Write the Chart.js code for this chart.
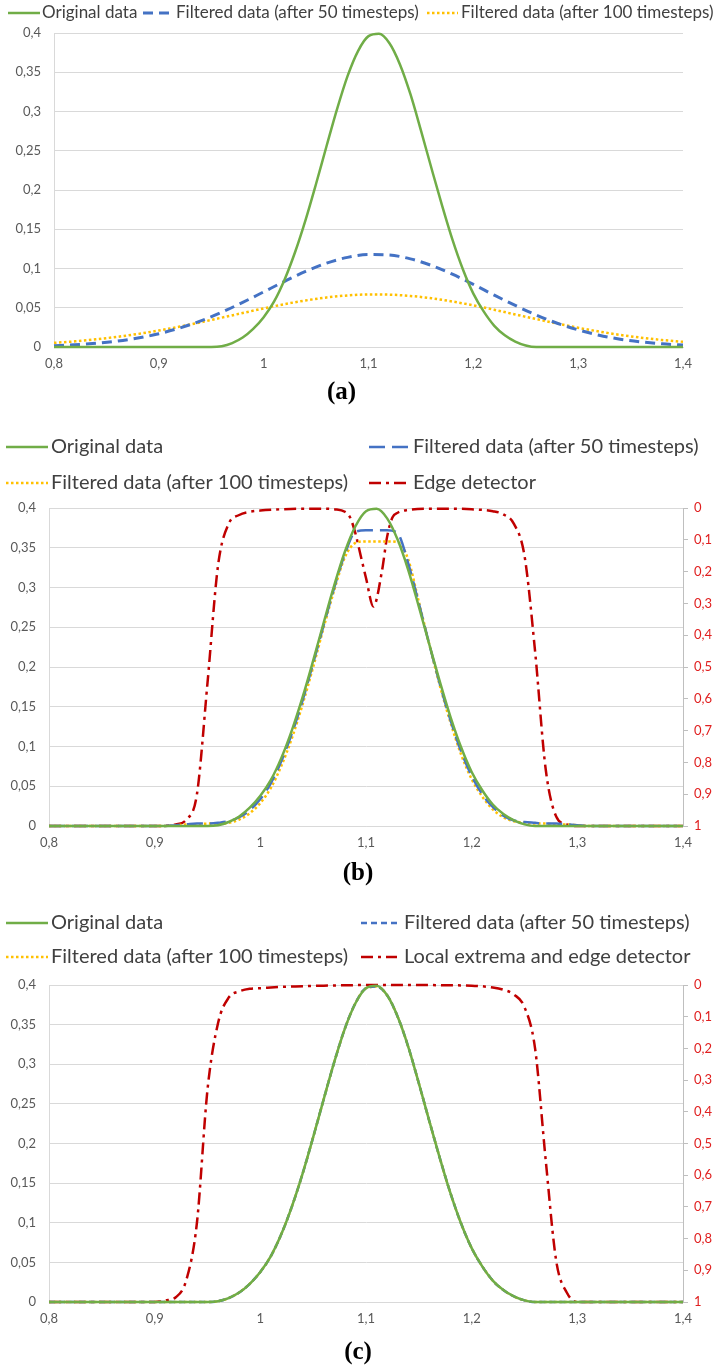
<!DOCTYPE html>
<html>
<head>
<meta charset="utf-8">
<script src="https://cdn.jsdelivr.net/npm/chart.js@4.4.1/dist/chart.umd.min.js"></script>
<style>
html,body{margin:0;padding:0;background:#fff;}
#wrap{position:relative;width:716px;height:1367px;}
canvas{position:absolute;left:0;}
</style>
</head>
<body>
<div id="wrap">
<canvas id="ca" width="716" height="410" style="top:0"></canvas>
<canvas id="cb" width="716" height="478" style="top:410px"></canvas>
<canvas id="cc" width="716" height="479" style="top:888px"></canvas>
</div>
<script>
// ---------- data ----------
const xTickValues = [0.8, 0.9, 1.0, 1.1, 1.2, 1.3, 1.4];
const xTickLabels = ['0,8', '0,9', '1', '1,1', '1,2', '1,3', '1,4'];
const yTickValues = [0, 0.05, 0.1, 0.15, 0.2, 0.25, 0.3, 0.35, 0.4];
const yTickLabels = ['0', '0,05', '0,1', '0,15', '0,2', '0,25', '0,3', '0,35', '0,4'];
const y2TickValues = [0, 0.1, 0.2, 0.3, 0.4, 0.5, 0.6, 0.7, 0.8, 0.9, 1];
const y2TickLabels = ['0', '0,1', '0,2', '0,3', '0,4', '0,5', '0,6', '0,7', '0,8', '0,9', '1'];

const seriesNamesA = ['Original data', 'Filtered data (after 50 timesteps)', 'Filtered data (after 100 timesteps)'];
const seriesNamesB = ['Original data', 'Filtered data (after 50 timesteps)', 'Filtered data (after 100 timesteps)', 'Edge detector'];
const seriesNamesC = ['Original data', 'Filtered data (after 50 timesteps)', 'Filtered data (after 100 timesteps)', 'Local extrema and edge detector'];

// x grid, step 0.01
const xFine = [0.80,0.81,0.82,0.83,0.84,0.85,0.86,0.87,0.88,0.89,0.90,0.91,0.92,0.93,0.94,0.95,
  0.96,0.97,0.98,0.99,1.00,1.01,1.02,1.03,1.04,1.05,1.06,1.07,1.08,1.09,1.10,1.11,1.12,1.13,1.14,1.15,
  1.16,1.17,1.18,1.19,1.20,1.21,1.22,1.23,1.24,1.25,1.26,
  1.27,1.28,1.29,1.30,1.31,1.32,1.33,1.34,1.35,1.36,1.37,1.38,1.39,1.40];
// x grid, step 0.02
const xCoarse = [0.80,0.82,0.84,0.86,0.88,0.90,0.92,0.94,0.96,0.98,1.00,1.02,1.04,1.06,1.08,1.10,
  1.12,1.14,1.16,1.18,1.20,1.22,1.24,1.26,1.28,1.30,1.32,1.34,1.36,1.38,1.40];

// (a)
const originalA = [0,0,0,0,0,0,0,0,0,0,0,0,0,0,0,0,
  0.001,0.005,0.012,0.023,0.038,0.058,0.086,0.121,0.162,0.208,0.256,0.303,0.345,0.377,0.396,0.399,0.387,0.360,0.322,0.276,
  0.228,0.181,0.137,0.099,0.068,0.045,0.027,0.015,0.007,0.002,0,
  0,0,0,0,0,0,0,0,0,0,0,0,0,0];
const filtered50A = [0.0017,0.0028,0.0047,0.0074,0.0114,0.0169,0.0242,0.0333,0.0443,0.0568,0.0702,0.0837,0.0963,0.1068,0.1142,0.1177,
  0.1171,0.1123,0.1039,0.0927,0.0797,0.0660,0.0529,0.0408,0.0303,0.0218,0.0150,0.0100,0.0065,0.0040,0.0024];
const filtered100A = [0.0053,0.0072,0.0098,0.0129,0.0166,0.0210,0.0260,0.0315,0.0374,0.0433,0.0492,0.0546,0.0593,0.0631,0.0657,0.0670,
  0.0667,0.0650,0.0621,0.0580,0.0530,0.0474,0.0415,0.0356,0.0299,0.0245,0.0197,0.0154,0.0119,0.0089,0.0066];

// (b)
const originalB = [0,0,0,0,0,0,0,0,0,0,0,0,0,0,0,0,
  0.001,0.005,0.012,0.023,0.038,0.058,0.086,0.121,0.162,0.208,0.256,0.303,0.345,0.377,0.396,0.399,0.387,0.360,0.322,0.276,
  0.228,0.181,0.137,0.099,0.068,0.045,0.027,0.015,0.007,0.002,0,
  0,0,0,0,0,0,0,0,0,0,0,0,0,0];
const filtered50B = [0,0,0,0,0,0,0,0,0,0,0,0,
  0.001,0.002,0.003,0.003,0.004,0.006,0.011,0.020,0.034,0.054,0.082,0.117,0.158,0.205,0.253,0.300,0.342,0.370,0.372,0.372,0.372,0.368,0.330,0.280,
  0.228,0.178,0.133,0.094,0.063,0.040,0.024,0.013,0.007,0.005,0.004,0.003,0.003,0.002,0.001,
  0,0,0,0,0,0,0,0,0,0];
const filtered100B = [0,0,0,0,0,0,0,0,0,0,0,0,
  0.001,0.002,0.002,0.003,0.003,0.004,0.008,0.016,0.029,0.048,0.076,0.111,0.153,0.200,0.250,0.297,0.338,0.356,0.358,0.358,0.358,0.357,0.335,0.282,
  0.228,0.176,0.130,0.090,0.059,0.037,0.021,0.011,0.006,0.004,0.003,0.003,0.002,0.002,0.001,
  0,0,0,0,0,0,0,0,0,0];
const edgeBx = [0.80,0.85,0.90,0.92,0.93,0.94,0.95,0.96,0.97,0.98,0.99,1.00,1.02,1.04,1.06,1.07,1.08,1.085,1.09,1.095,1.10,1.107,
  1.115,1.12,1.125,1.13,1.14,1.16,1.18,1.20,1.22,1.23,1.24,1.25,1.26,1.27,1.28,1.29,1.30,1.35,1.40];
const edgeB = [1,1,1,0.995,0.98,0.9,0.55,0.18,0.05,0.022,0.012,0.008,0.004,0.002,0.002,0.004,0.012,0.03,0.08,0.15,0.22,0.31,
  0.2,0.09,0.03,0.015,0.006,0.002,0.002,0.004,0.01,0.02,0.05,0.15,0.45,0.82,0.97,0.995,1,1,1];

// (c)
const originalC = [0,0,0,0,0,0,0,0,0,0,0,0,0,0,0,0,
  0.001,0.005,0.012,0.023,0.038,0.058,0.086,0.121,0.162,0.208,0.256,0.303,0.345,0.377,0.396,0.399,0.387,0.360,0.322,0.276,
  0.228,0.181,0.137,0.099,0.068,0.045,0.027,0.015,0.007,0.002,0,
  0,0,0,0,0,0,0,0,0,0,0,0,0,0];
const filtered50C = [0,0,0,0,0,0,0,0,0,0,0,0,0,0,0,0,
  0.001,0.005,0.012,0.023,0.038,0.058,0.086,0.121,0.162,0.208,0.256,0.303,0.345,0.377,0.396,0.398,0.387,0.360,0.322,0.276,
  0.228,0.181,0.137,0.099,0.068,0.045,0.027,0.015,0.007,0.002,0,
  0,0,0,0,0,0,0,0,0,0,0,0,0,0];
const filtered100C = [0,0,0,0,0,0,0,0,0,0,0,0,0,0,0,0,
  0.001,0.005,0.012,0.023,0.038,0.058,0.086,0.121,0.162,0.208,0.256,0.303,0.345,0.377,0.396,0.398,0.387,0.360,0.322,0.276,
  0.228,0.181,0.137,0.099,0.068,0.045,0.027,0.015,0.007,0.002,0,
  0,0,0,0,0,0,0,0,0,0,0,0,0,0];
const edgeCx = [0.80,0.85,0.90,0.91,0.92,0.93,0.94,0.95,0.96,0.97,0.98,0.99,1.00,1.02,1.04,1.06,1.08,1.10,1.15,1.18,1.20,1.22,1.23,
  1.24,1.25,1.26,1.27,1.28,1.29,1.30,1.35,1.40];
const edgeC = [1,1,1,0.995,0.985,0.93,0.75,0.33,0.12,0.04,0.02,0.012,0.01,0.006,0.004,0.002,0.001,0,0,0.001,0.002,0.008,0.015,
  0.03,0.07,0.2,0.55,0.87,0.97,1,1,1];

// ---------- helpers ----------
const pts = (xs, ys) => xs.map((x, i) => ({x: x, y: ys[i]}));
const GREEN = '#70ad47', BLUE = '#4472c4', YELLOW = '#ffc000', RED = '#c00000';
const TICK_FONT = {family: 'Lato', size: 13};
const TICK_COLOR = '#595959';
const GRID_COLOR = '#d9d9d9';

const fixedLegend = {
  id: 'fixedLegend',
  afterDraw(chart, args, opts) {
    const ctx = chart.ctx;
    ctx.save();
    opts.items.forEach((it, i) => {
      const ds = chart.data.datasets[i];
      ctx.strokeStyle = ds.borderColor;
      ctx.lineWidth = ds.borderWidth;
      ctx.lineCap = 'butt';
      ctx.setLineDash(ds.borderDash || []);
      ctx.beginPath();
      ctx.moveTo(it[0], it[3]);
      ctx.lineTo(it[0] + it[1], it[3]);
      ctx.stroke();
      ctx.setLineDash([]);
      ctx.fillStyle = opts.color;
      ctx.font = opts.font;
      ctx.textBaseline = 'middle';
      ctx.textAlign = 'left';
      ctx.fillText(ds.label, it[2], it[3]);
    });
    ctx.restore();
  }
};

function lineDs(label, data, color, width, dash, axis) {
  return {
    label: label, data: data, borderColor: color, backgroundColor: color,
    borderWidth: width, borderDash: dash, pointRadius: 0, fill: false,
    cubicInterpolationMode: 'monotone', yAxisID: axis || 'y', clip: 4
  };
}

function xScale() {
  return {
    type: 'linear', min: 0.8, max: 1.4,
    afterBuildTicks: s => { s.ticks = xTickValues.map(v => ({value: v})); },
    afterFit: s => { s.height = 30; },
    ticks: {font: TICK_FONT, color: TICK_COLOR, padding: 9, maxRotation: 0, autoSkip: false,
      callback: (v, i) => xTickLabels[i]},
    grid: {display: false, drawTicks: false},
    border: {display: true, color: GRID_COLOR, width: 1}
  };
}
function yScale(w) {
  return {
    type: 'linear', position: 'left', min: 0, max: 0.4,
    afterBuildTicks: s => { s.ticks = yTickValues.map(v => ({value: v})); },
    afterFit: s => { s.width = w; },
    ticks: {font: TICK_FONT, color: TICK_COLOR, padding: 13, callback: (v, i) => yTickLabels[i]},
    grid: {color: GRID_COLOR, lineWidth: 1, drawTicks: false},
    border: {display: true, color: GRID_COLOR, width: 1}
  };
}
function y2Scale() {
  return {
    type: 'linear', position: 'right', min: 0, max: 1, reverse: true,
    afterBuildTicks: s => { s.ticks = y2TickValues.map(v => ({value: v})); },
    afterFit: s => { s.width = 33; },
    ticks: {font: TICK_FONT, color: '#e02020', padding: 6, callback: (v, i) => y2TickLabels[i]},
    grid: {drawOnChartArea: false, drawTicks: true, tickLength: 5, color: '#bfbfbf'},
    border: {display: true, color: '#bfbfbf', width: 1}
  };
}
function titleOpt(text, padTop) {
  return {display: true, position: 'bottom', text: text, color: '#000',
    font: {family: 'Liberation Serif', size: 25, weight: 'bold', lineHeight: 1},
    padding: {top: padTop, bottom: 0}};
}

// ---------- chart (a) ----------
new Chart(document.getElementById('ca'), {
  type: 'line',
  data: {datasets: [
    lineDs(seriesNamesA[0], pts(xFine, originalA), GREEN, 2.5, []),
    lineDs(seriesNamesA[1], pts(xCoarse, filtered50A), BLUE, 3, [10, 6]),
    lineDs(seriesNamesA[2], pts(xCoarse, filtered100A), YELLOW, 2.5, [2.5, 2.5])
  ]},
  options: {
    responsive: false, animation: false,
    layout: {padding: {top: 33, left: 0, right: 33, bottom: 5}},
    scales: {x: xScale(), y: yScale(54)},
    plugins: {
      legend: {display: false}, tooltip: {enabled: false},
      title: titleOpt('(a)', 3),
      fixedLegend: {font: '17px Lato', color: '#404040',
        items: [[8, 32, 42, 13], [143, 27, 176, 13], [427, 31, 461, 13]]}
    }
  },
  plugins: [fixedLegend]
});

// ---------- chart (b) ----------
new Chart(document.getElementById('cb'), {
  type: 'line',
  data: {datasets: [
    lineDs(seriesNamesB[0], pts(xFine, originalB), GREEN, 2.5, []),
    lineDs(seriesNamesB[1], pts(xFine, filtered50B), BLUE, 2.5, [16, 7]),
    lineDs(seriesNamesB[2], pts(xFine, filtered100B), YELLOW, 2.5, [2.5, 2.5]),
    lineDs(seriesNamesB[3], pts(edgeBx, edgeB), RED, 2.5, [12, 5, 3, 5], 'y2')
  ]},
  options: {
    responsive: false, animation: false,
    layout: {padding: {top: 98, left: 0, right: 0, bottom: 2}},
    scales: {x: xScale(), y: yScale(49), y2: y2Scale()},
    plugins: {
      legend: {display: false}, tooltip: {enabled: false},
      title: titleOpt('(b)', 5),
      fixedLegend: {font: '20px Lato', color: '#404040',
        items: [[6, 42, 51, 37], [369, 42, 413, 37], [6, 42, 51, 73], [369, 42, 413, 73]]}
    }
  },
  plugins: [fixedLegend]
});

// ---------- chart (c) ----------
new Chart(document.getElementById('cc'), {
  type: 'line',
  data: {datasets: [
    lineDs(seriesNamesC[0], pts(xFine, originalC), GREEN, 2.5, []),
    lineDs(seriesNamesC[1], pts(xFine, filtered50C), BLUE, 2.5, [6, 4]),
    lineDs(seriesNamesC[2], pts(xFine, filtered100C), YELLOW, 2.5, [2.5, 2.5]),
    lineDs(seriesNamesC[3], pts(edgeCx, edgeC), RED, 2.5, [12, 5, 3, 5], 'y2')
  ]},
  options: {
    responsive: false, animation: false,
    layout: {padding: {top: 97, left: 0, right: 0, bottom: 2}},
    scales: {x: xScale(), y: yScale(49), y2: y2Scale()},
    plugins: {
      legend: {display: false}, tooltip: {enabled: false},
      title: titleOpt('(c)', 8),
      fixedLegend: {font: '20px Lato', color: '#404040',
        items: [[6, 42, 51, 35], [361, 36, 404, 35], [6, 42, 51, 69], [361, 36, 404, 69]]}
    }
  },
  plugins: [fixedLegend]
});
</script>
</body>
</html>
